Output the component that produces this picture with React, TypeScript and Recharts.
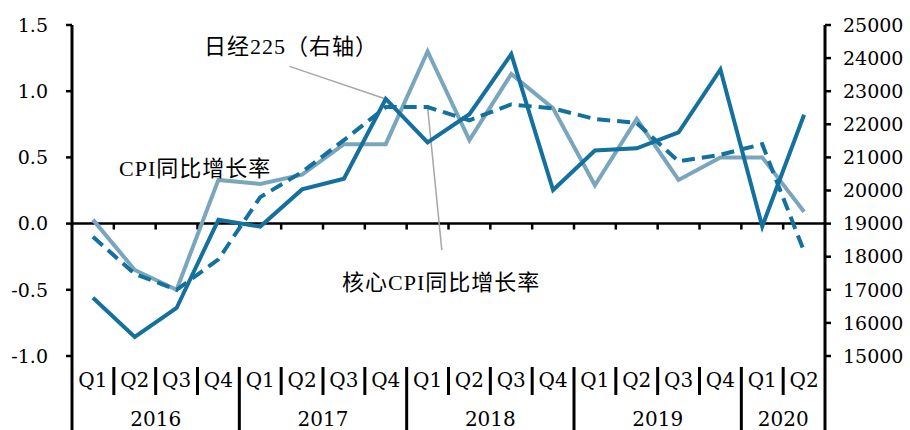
import React from "react";
import { ComposedChart, Line, XAxis, YAxis, ReferenceLine } from "recharts";

// quarters 2016Q1 .. 2020Q2
const quarters = ["Q1", "Q2", "Q3", "Q4", "Q1", "Q2", "Q3", "Q4", "Q1", "Q2", "Q3", "Q4", "Q1", "Q2", "Q3", "Q4", "Q1", "Q2"];
const years = ["2016", "2017", "2018", "2019", "2020"];
const quartersPerYear = [4, 4, 4, 4, 2];

// CPI yoy (%), left axis
const cpi = [0.03, -0.35, -0.5, 0.33, 0.3, 0.37, 0.6, 0.6, 1.3, 0.63, 1.13, 0.87, 0.29, 0.79, 0.33, 0.5, 0.5, 0.09];
// core CPI yoy (%), left axis
const coreCpi = [-0.1, -0.38, -0.5, -0.27, 0.2, 0.39, 0.63, 0.88, 0.88, 0.78, 0.9, 0.87, 0.79, 0.76, 0.47, 0.52, 0.6, -0.21];
// Nikkei 225, right axis
const nikkei = [16759, 15576, 16450, 19114, 18909, 20033, 20356, 22765, 21454, 22305, 24120, 20015, 21206, 21276, 21756, 23657, 18917, 22288];

const leftTicks = [-1, -0.5, 0, 0.5, 1, 1.5];
const rightTicks = [15000, 16000, 17000, 18000, 19000, 20000, 21000, 22000, 23000, 24000, 25000];

const LIGHT = "#7aa6bd";
const DARK = "#14709c";

const rows = quarters.map((q, i) => ({ pos: i + 0.5, cpi: cpi[i], core: coreCpi[i], nikkei: nikkei[i] }));

// boundaries between quarters + quarter centres
const xTicks: number[] = [];
for (let i = 0; i <= quarters.length; i++) {
  xTicks.push(i);
  if (i < quarters.length) xTicks.push(i + 0.5);
}

const yearEdges: number[] = [0];
const yearMid: Record<number, string> = {};
quartersPerYear.forEach((n, i) => {
  const start = yearEdges[yearEdges.length - 1];
  yearMid[start + n / 2] = years[i];
  yearEdges.push(start + n);
});

const numFont = "'DejaVu Serif', serif";
const labelFont = "'Liberation Serif', 'Noto Sans CJK SC', serif";

const XTick = (props: any) => {
  const { x, y, payload } = props;
  const v = payload.value as number;
  if (Number.isInteger(v)) {
    const isEnd = v === 0 || v === quarters.length;
    const isYear = yearEdges.includes(v);
    return (
      <g>
        <line x1={x} x2={x} y1={isEnd ? y : y + 11} y2={isYear ? y + 74 : y + 39} stroke="#000" strokeWidth={3} />
        {yearMid[v] && (
          <text x={x} y={y + 70} textAnchor="middle" fontFamily={numFont} fontSize={20} fill="#000">
            {yearMid[v]}
          </text>
        )}
      </g>
    );
  }
  return (
    <text x={x} y={y + 31} textAnchor="middle" fontFamily={numFont} fontSize={20} fill="#000">
      {quarters[Math.floor(v)]}
    </text>
  );
};

const tickStyle = { fill: "#000", fontFamily: numFont, fontSize: 19 };

const note = (text: string, left: number, top: number) => (
  <div
    style={{
      position: "absolute",
      left,
      top,
      fontFamily: labelFont,
      fontSize: 22,
      letterSpacing: 1,
      lineHeight: "26px",
      whiteSpace: "nowrap",
      color: "#000",
    }}
  >
    {text}
  </div>
);

export default function App() {
  return (
    <div style={{ position: "absolute", left: 0, top: 0, width: 910, height: 430, background: "#fff" }}>
      <ComposedChart width={910} height={430} data={rows} margin={{ top: 25, right: 0, bottom: 0, left: 0 }}>
        <XAxis
          dataKey="pos"
          type="number"
          domain={[0, quarters.length]}
          ticks={xTicks}
          interval={0}
          tick={<XTick />}
          tickLine={false}
          axisLine={false}
          tickSize={0}
          tickMargin={0}
          height={74}
        />
        <YAxis
          yAxisId="left"
          domain={[-1, 1.5]}
          ticks={leftTicks}
          tickFormatter={(v: number) => v.toFixed(1)}
          width={72}
          tick={tickStyle}
          tickSize={6}
          tickMargin={18}
          tickLine={{ stroke: "#000", strokeWidth: 2.5 }}
          axisLine={{ stroke: "#000", strokeWidth: 3 }}
          allowDataOverflow
        />
        <YAxis
          yAxisId="right"
          orientation="right"
          domain={[15000, 25000]}
          ticks={rightTicks}
          width={85}
          tick={tickStyle}
          tickSize={6}
          tickMargin={12}
          tickLine={{ stroke: "#000", strokeWidth: 2.5 }}
          axisLine={{ stroke: "#000", strokeWidth: 3 }}
          allowDataOverflow
        />
        <ReferenceLine yAxisId="left" y={0} stroke="#000" strokeWidth={2.5} />
        {xTicks
          .filter((t) => Number.isInteger(t) && t > 0 && t < quarters.length)
          .map((t) => (
            <ReferenceLine
              key={t}
              yAxisId="left"
              segment={[{ x: t, y: 0 }, { x: t, y: -0.045 }]}
              stroke="#000"
              strokeWidth={2.5}
            />
          ))}
        {/* annotation pointers */}
        <ReferenceLine
          yAxisId="right"
          segment={[{ x: 5.2, y: 23750 }, { x: rows[7].pos, y: nikkei[7] }]}
          stroke="#a6a6a6"
          strokeWidth={1.5}
        />
        <ReferenceLine
          yAxisId="left"
          segment={[{ x: 8.84, y: -0.2 }, { x: rows[8].pos, y: coreCpi[8] }]}
          stroke="#a6a6a6"
          strokeWidth={1.5}
        />
        <Line yAxisId="left" dataKey="cpi" type="linear" stroke={LIGHT} strokeWidth={4} dot={false} activeDot={false} isAnimationActive={false} />
        <Line yAxisId="left" dataKey="core" type="linear" stroke={DARK} strokeWidth={4} strokeDasharray="13 7" dot={false} activeDot={false} isAnimationActive={false} />
        <Line yAxisId="right" dataKey="nikkei" type="linear" stroke={DARK} strokeWidth={4} dot={false} activeDot={false} isAnimationActive={false} />
      </ComposedChart>
      {note("日经225（右轴）", 204, 34)}
      {note("CPI同比增长率", 119, 156)}
      {note("核心CPI同比增长率", 342, 270)}
    </div>
  );
}
